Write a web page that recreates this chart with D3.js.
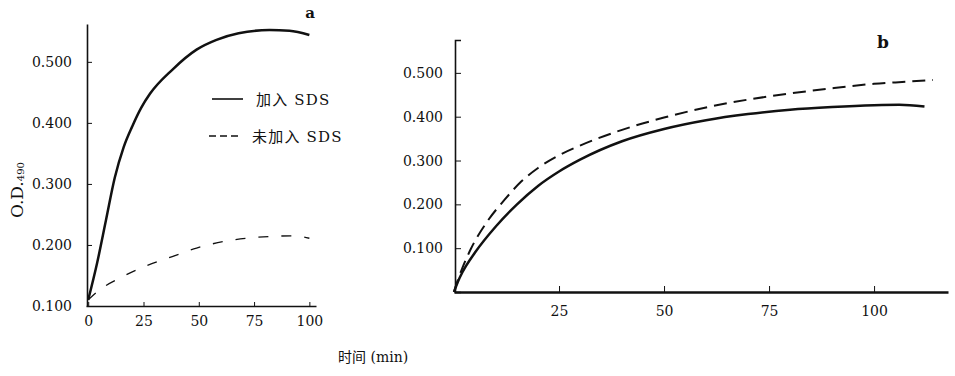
<!DOCTYPE html>
<html>
<head>
<meta charset="utf-8">
<script src="https://cdn.jsdelivr.net/npm/d3@7"></script>
<style>
  body { margin: 0; background: #fff; }
  svg { display: block; }
  .tick text { font-family: "DejaVu Serif", serif; font-size: 14px; fill: #111; }
  .domain, .tick line { stroke: #111; }
  .lbl { font-family: "DejaVu Serif", "Noto Sans CJK SC", serif; fill: #111; }
  .cjk { font-family: "Noto Sans CJK SC", sans-serif; }
</style>
</head>
<body>
<svg id="chart" width="955" height="376"></svg>
<script>
// panel a
const timeA = [0, 4, 8, 12, 16, 20, 24, 28, 38, 49, 58, 68, 82, 91, 100];
const withSdsA = [0.110, 0.170, 0.240, 0.310, 0.360, 0.395, 0.425, 0.448, 0.487, 0.520, 0.536, 0.547, 0.552, 0.551, 0.544];
const timeA2 = [0, 5, 15, 25, 38, 49, 65, 83, 92, 100];
const noSdsA = [0.110, 0.126, 0.147, 0.164, 0.181, 0.195, 0.208, 0.214, 0.215, 0.211];
const xTicksA = [0, 25, 50, 75, 100];
const yTicksA = [0.1, 0.2, 0.3, 0.4, 0.5];

// panel b
const timeB = [0, 1, 2, 5, 10, 15, 20, 25, 30, 40, 50, 60, 70, 80, 90, 100, 106, 112];
const withSdsB = [0, 0.025, 0.045, 0.090, 0.150, 0.200, 0.242, 0.275, 0.302, 0.344, 0.372, 0.392, 0.406, 0.416, 0.422, 0.426, 0.427, 0.423];
const timeB2 = [0, 1, 2, 4, 8, 12, 16, 20, 25, 30, 40, 50, 60, 70, 80, 90, 100, 108, 114];
const noSdsB = [0, 0.030, 0.055, 0.098, 0.162, 0.210, 0.252, 0.283, 0.312, 0.334, 0.370, 0.398, 0.421, 0.439, 0.453, 0.465, 0.475, 0.480, 0.484];
const xTicksB = [25, 50, 75, 100];
const yTicksB = [0.1, 0.2, 0.3, 0.4, 0.5];

const legendLabels = ['加入 SDS', '未加入 SDS'];

const svg = d3.select('#chart');
const fmtY = d3.format('.3f');

// ---- panel a ----
const xA = d3.scaleLinear().domain([-1, 103]).range([86, 316]);
const yA = d3.scaleLinear().domain([0.1, 0.562]).range([306, 24]);

svg.append('g')
  .attr('transform', 'translate(0,306)')
  .call(d3.axisBottom(xA).tickValues(xTicksA).tickFormat(d3.format('d'))
    .tickSizeInner(-4).tickSizeOuter(0).tickPadding(10))
  .call(g => g.select('.domain').attr('stroke-width', 1.6));

svg.append('g')
  .attr('transform', 'translate(87,0)')
  .call(d3.axisLeft(yA).tickValues(yTicksA).tickFormat(fmtY)
    .tickSizeInner(-5).tickSizeOuter(0).tickPadding(15))
  .call(g => g.select('.domain').attr('stroke-width', 1.6));

const lineA = d3.line().x(d => xA(d[0])).y(d => yA(d[1])).curve(d3.curveMonotoneX);

svg.append('path')
  .datum(d3.zip(timeA, withSdsA))
  .attr('d', lineA)
  .attr('fill', 'none').attr('stroke', '#111').attr('stroke-width', 2.5);

svg.append('path')
  .datum(d3.zip(timeA2, noSdsA))
  .attr('d', lineA)
  .attr('fill', 'none').attr('stroke', '#111').attr('stroke-width', 1.3)
  .attr('stroke-dasharray', '10,13');

// legend
svg.append('line').attr('x1', 212).attr('x2', 243).attr('y1', 99).attr('y2', 99)
  .attr('stroke', '#111').attr('stroke-width', 1.6);
svg.append('line').attr('x1', 209).attr('x2', 242).attr('y1', 136).attr('y2', 136)
  .attr('stroke', '#111').attr('stroke-width', 1.6).attr('stroke-dasharray', '7,4');
svg.append('text').attr('class', 'lbl').attr('x', 256).attr('y', 105)
  .attr('font-size', 15).attr('letter-spacing', 1.2).text(legendLabels[0]);
svg.append('text').attr('class', 'lbl').attr('x', 252).attr('y', 142)
  .attr('font-size', 15).attr('letter-spacing', 1.2).text(legendLabels[1]);

// y label O.D.490
const yl = svg.append('text').attr('class', 'lbl')
  .attr('transform', 'translate(23,218) rotate(-90)')
  .attr('font-size', 17);
yl.append('tspan').text('O.D.');
yl.append('tspan').attr('font-size', 10).attr('dy', 1).text('490');

svg.append('text').attr('class', 'lbl').attr('x', 310).attr('y', 18)
  .attr('text-anchor', 'middle').attr('font-weight', 'bold').attr('font-size', 15).text('a');

// ---- panel b ----
const xB = d3.scaleLinear().domain([0, 117.6]).range([454, 948]);
const yB = d3.scaleLinear().domain([0, 0.575]).range([292, 40]);

svg.append('g')
  .attr('transform', 'translate(0,292)')
  .call(d3.axisBottom(xB).tickValues(xTicksB).tickFormat(d3.format('d'))
    .tickSizeInner(-6).tickSizeOuter(0).tickPadding(14))
  .call(g => g.select('.domain').attr('stroke-width', 2.6));

svg.append('g')
  .attr('transform', 'translate(455,0)')
  .call(d3.axisLeft(yB).tickValues(yTicksB).tickFormat(fmtY)
    .tickSizeInner(-6).tickSizeOuter(-6).tickPadding(12))
  .call(g => g.select('.domain').attr('stroke-width', 1.6));

const lineB = d3.line().x(d => xB(d[0])).y(d => yB(d[1])).curve(d3.curveMonotoneX);

svg.append('path')
  .datum(d3.zip(timeB, withSdsB))
  .attr('d', lineB)
  .attr('fill', 'none').attr('stroke', '#111').attr('stroke-width', 2.5);

svg.append('path')
  .datum(d3.zip(timeB2, noSdsB))
  .attr('d', lineB)
  .attr('fill', 'none').attr('stroke', '#111').attr('stroke-width', 2)
  .attr('stroke-dasharray', '13,7');

svg.append('text').attr('class', 'lbl').attr('x', 883).attr('y', 48)
  .attr('text-anchor', 'middle').attr('font-weight', 'bold').attr('font-size', 17).text('b');

// shared x label
const xl = svg.append('text').attr('class', 'lbl').attr('x', 338).attr('y', 362).attr('font-size', 14);
xl.append('tspan').attr('class', 'cjk').text('时间');
xl.append('tspan').text(' (min)');
</script>
</body>
</html>
